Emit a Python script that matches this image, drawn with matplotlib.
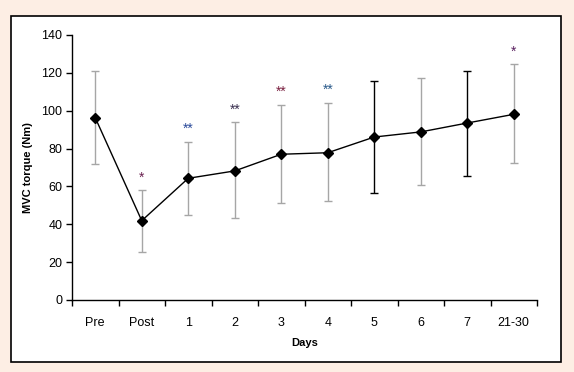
import matplotlib.pyplot as plt
from matplotlib.patches import Rectangle

plt.rcParams['font.family'] = ['Liberation Sans', 'DejaVu Sans']

days = ['Pre', 'Post', '1', '2', '3', '4', '5', '6', '7', '21-30']
torque_mean = [96.3, 41.9, 64.3, 68.2, 77.0, 77.8, 86.1, 88.8, 93.5, 98.1]
torque_upper = [121.0, 58.0, 83.6, 94.0, 103.2, 104.2, 115.7, 117.4, 121.0, 124.5]
torque_lower = [71.7, 25.4, 44.9, 43.2, 51.1, 52.1, 56.7, 60.6, 65.5, 72.2]
signif = ['', '*', '**', '**', '**', '**', '', '', '', '*']
signif_colors = ['', '#6a2050', '#2a4a9a', '#3a3050', '#7a2040', '#2a5a8a', '', '', '', '#5a2060']
bar_colors = ['#a6a6a6', '#a6a6a6', '#a6a6a6', '#a6a6a6', '#a6a6a6', '#a6a6a6',
              'black', '#a6a6a6', 'black', '#a6a6a6']

fig = plt.figure(figsize=(5.74, 3.72), dpi=100)
fig.patch.set_facecolor('#fdeee4')

# caixa branca com borda preta (atrás dos eixos)
caixa = Rectangle((11 / 574, 1 - 362 / 372), 550 / 574, 346 / 372, transform=fig.transFigure,
                  facecolor='white', edgecolor='black', linewidth=1.2, zorder=-1)
fig.patches.append(caixa)

ax = fig.add_axes([72 / 574, 1 - 300 / 372, 465 / 574, 265 / 372])
ax.patch.set_alpha(0)

x = list(range(len(days)))
for i in x:
    ax.errorbar(i, torque_mean[i],
                yerr=[[torque_mean[i] - torque_lower[i]], [torque_upper[i] - torque_mean[i]]],
                fmt='none', ecolor=bar_colors[i], elinewidth=1, capsize=3.2, capthick=1, zorder=2)

ax.plot(x, torque_mean, color='black', linewidth=1, marker='D', markersize=5, zorder=3)

for i in x:
    if signif[i]:
        ax.text(i, torque_upper[i] + 3, signif[i], ha='center', va='bottom',
                fontsize=10, color=signif_colors[i])

ax.set_xlim(-0.5, len(days) - 0.5)
ax.set_ylim(0, 140)
ax.set_yticks(range(0, 141, 20))
ax.set_xticks([i - 0.5 for i in range(len(days) + 1)])
ax.set_xticklabels([])
ax.set_xticks(x, minor=True)
ax.set_xticklabels(days, minor=True)
ax.tick_params(axis='x', which='minor', length=0, pad=12, labelsize=9)
ax.tick_params(axis='x', which='major', direction='out', length=4, width=1)
ax.tick_params(axis='y', direction='out', length=4, width=1, labelsize=9, pad=3)

for lado in ['top', 'right']:
    ax.spines[lado].set_visible(False)
for lado in ['left', 'bottom']:
    ax.spines[lado].set_linewidth(1)

ax.set_xlabel('Days', fontsize=8, fontweight='bold', labelpad=7)
ax.set_ylabel('MVC torque (Nm)', fontsize=8, fontweight='bold', labelpad=6)

fig.savefig('out.png', dpi=100, facecolor=fig.get_facecolor())
